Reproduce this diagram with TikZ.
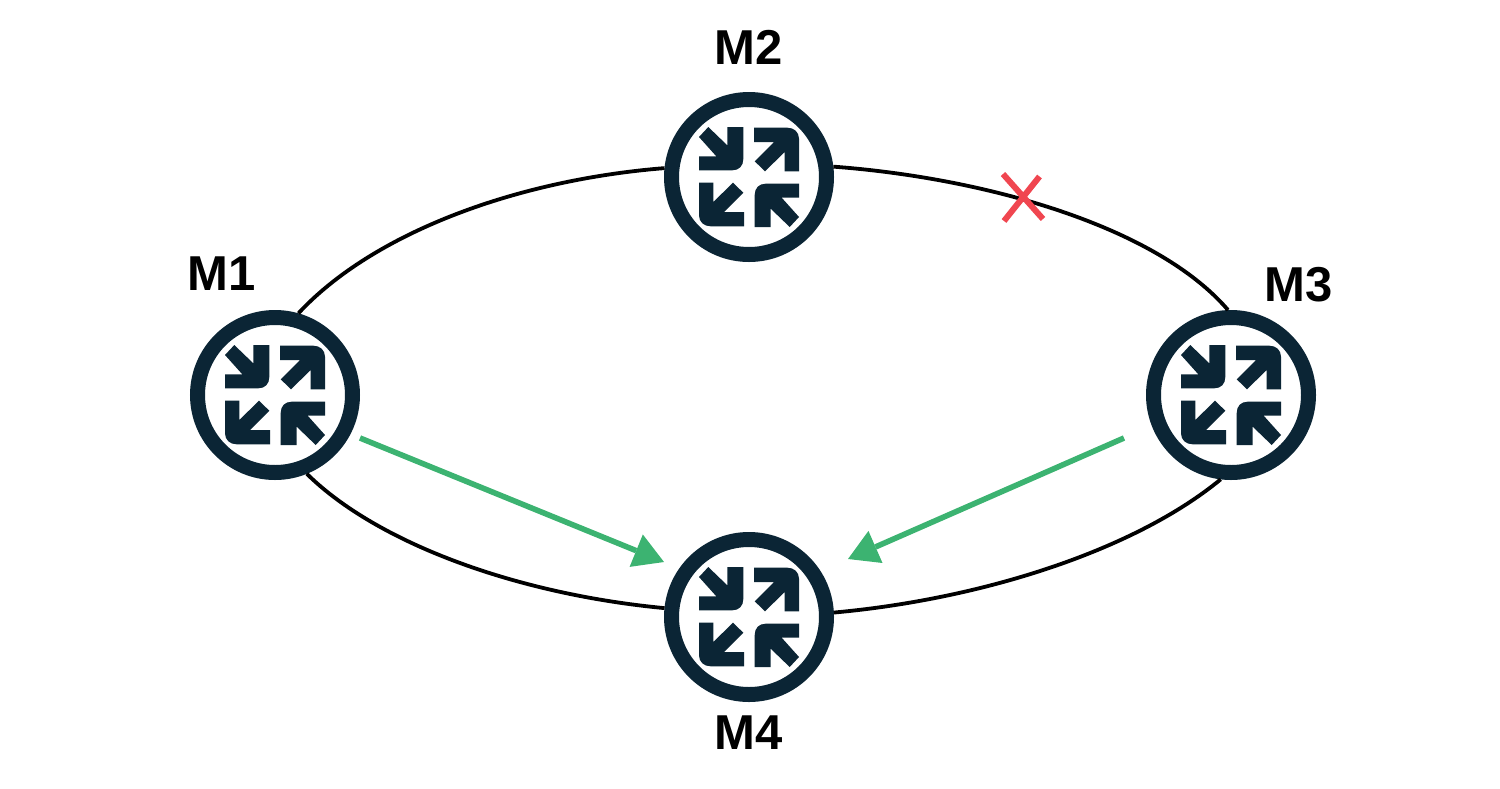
\documentclass[tikz,border=0pt]{standalone}
\usepackage{fontspec}
\setmainfont{Liberation Sans}
\usetikzlibrary{arrows.meta}
\definecolor{navy}{RGB}{11,37,53}
\definecolor{flow}{RGB}{60,179,113}
\definecolor{cut}{RGB}{240,70,80}
\tikzset{
  x=1pt,y=-1pt,
  router/.style={circle,draw=navy,line width=15pt,minimum size=155pt,inner sep=0pt,fill=white},
  ring/.style={draw=black,line width=3.8pt},
  flowline/.style={draw=flow,line width=5.6pt,-{Triangle[length=30pt,width=35pt,line width=0pt]}},
  cutline/.style={draw=cut,line width=6pt},
  lab/.style={font=\bfseries\fontsize{49}{49}\selectfont,inner sep=0pt,text=black},
  pics/routericon/.style={code={
    \foreach \r in {0,180}{
      \fill[navy,rotate=\r] (-50,-40) -- (-40.7,-50) -- (-21.7,-31.7) -- (-21.7,-50) -- (-5.7,-50)
        -- (-5.7,-18) .. controls (-5.7,-11) and (-10,-6.7) .. (-16.7,-6.7)
        -- (-50,-6.7) -- (-50,-20.7) -- (-32.7,-20.7) -- cycle;
      \fill[navy,rotate=\r] (5,-49.3) -- (38.3,-49.3) .. controls (45,-49.3) and (50,-45) .. (50,-38.3)
        -- (50,-5.7) -- (35.7,-5.7) -- (35.7,-25) -- (16,-5.7) -- (5.7,-15.7) -- (25,-35) -- (5,-35) -- cycle;
    }
  }}
}
\begin{document}
\begin{tikzpicture}
\useasboundingbox (0,0) rectangle (1500,788);
\node[router] (m1) at (275,395) {};
\node[router] (m2) at (749,177) {};
\node[router] (m3) at (1231,395) {};
\node[router] (m4) at (749,617) {};
\pic at (m1.center) {routericon};
\pic at (m2.center) {routericon};
\pic at (m3.center) {routericon};
\pic at (m4.center) {routericon};
\path[ring] (m1.74) .. controls (373,233) and (516,180) .. (m2.174);
\path[ring] (m2.7) .. controls (985,178) and (1156,226) .. (m3.92);
\path[ring] (m1.-68) .. controls (377,543) and (516,594) .. (m4.174.5);
\path[ring] (m4.3.4) .. controls (983,599) and (1135,550) .. (m3.-97);
\coordinate (a1) at (360,438);
\coordinate (a1t) at (664,562);
\coordinate (a3) at (1124,438);
\coordinate (a3t) at (848,559);
\path[flowline] (a1) -- (a1t);
\path[flowline] (a3) -- (a3t);
\coordinate (c1) at (1003,174);
\coordinate (c2) at (1043,219);
\coordinate (c3) at (1039.5,176.5);
\coordinate (c4) at (1004,221);
\path[cutline] (c1) -- (c2);
\path[cutline] (c3) -- (c4);
\node[lab] (l1) at (222,274) {M1};
\node[lab] (l2) at (749,47) {M2};
\node[lab] (l3) at (1299,285) {M3};
\node[lab] (l4) at (749,733) {M4};
\end{tikzpicture}
\end{document}
